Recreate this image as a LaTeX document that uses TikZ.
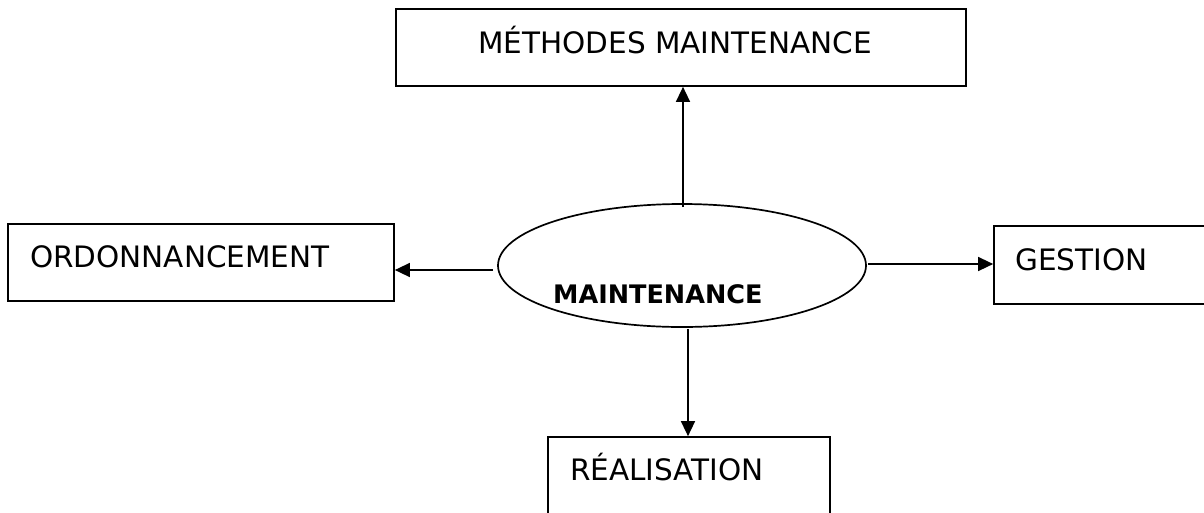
\documentclass[tikz,border=0pt]{standalone}
\usepackage{fontspec}
\setmainfont{DejaVu Sans}
\usetikzlibrary{arrows.meta,shapes.geometric}
\begin{document}
\begin{tikzpicture}[x=1pt,y=-1pt,
  box/.style={draw,line width=1.7pt,rectangle,inner sep=0pt},
  hub/.style={draw,line width=1.7pt,ellipse,inner sep=0pt},
  lbl/.style={anchor=base west,inner sep=0pt,font=\fontsize{29.5}{34}\selectfont},
  hublbl/.style={anchor=base west,inner sep=0pt,font=\fontsize{25.5}{30}\selectfont\bfseries},
  link/.style={line width=1.4pt,-{Triangle[length=15pt,width=14pt]}}]
\clip (0,0) rectangle (1204,512);
\fill[white] (0,0) rectangle (1204,512);

% central ellipse
\node[hub,minimum width=368pt,minimum height=123pt] (hub) at (682,265.5) {};
\node[hublbl] (hubt) at (553,303) {MAINTENANCE};

% surrounding boxes
\node[box,minimum width=570pt,minimum height=77pt] (meth) at (681,47.5) {};
\node[lbl] (metht) at (478,53) {MÉTHODES MAINTENANCE};

\node[box,minimum width=386pt,minimum height=77pt] (ord) at (201,262.5) {};
\node[lbl] (ordt) at (30,267) {ORDONNANCEMENT};

\node[box,minimum width=240pt,minimum height=78pt] (gest) at (1114,265) {};
\node[lbl] (gestt) at (1015,270) {GESTION};

\node[box,minimum width=282pt,minimum height=120pt] (real) at (689,497) {};
\node[lbl] (realt) at (570,480) {RÉALISATION};

% connectors
\coordinate (upstart) at (683,207);
\coordinate (leftstart) at (493,270);
\coordinate (rightstart) at (868,264);
\coordinate (downstart) at (688,329);
\draw[link] (upstart) -- (upstart |- meth.south);
\draw[link] (leftstart) -- (leftstart -| ord.east);
\draw[link] (rightstart) -- (rightstart -| gest.west);
\draw[link] (downstart) -- (downstart |- real.north);
\end{tikzpicture}
\end{document}
